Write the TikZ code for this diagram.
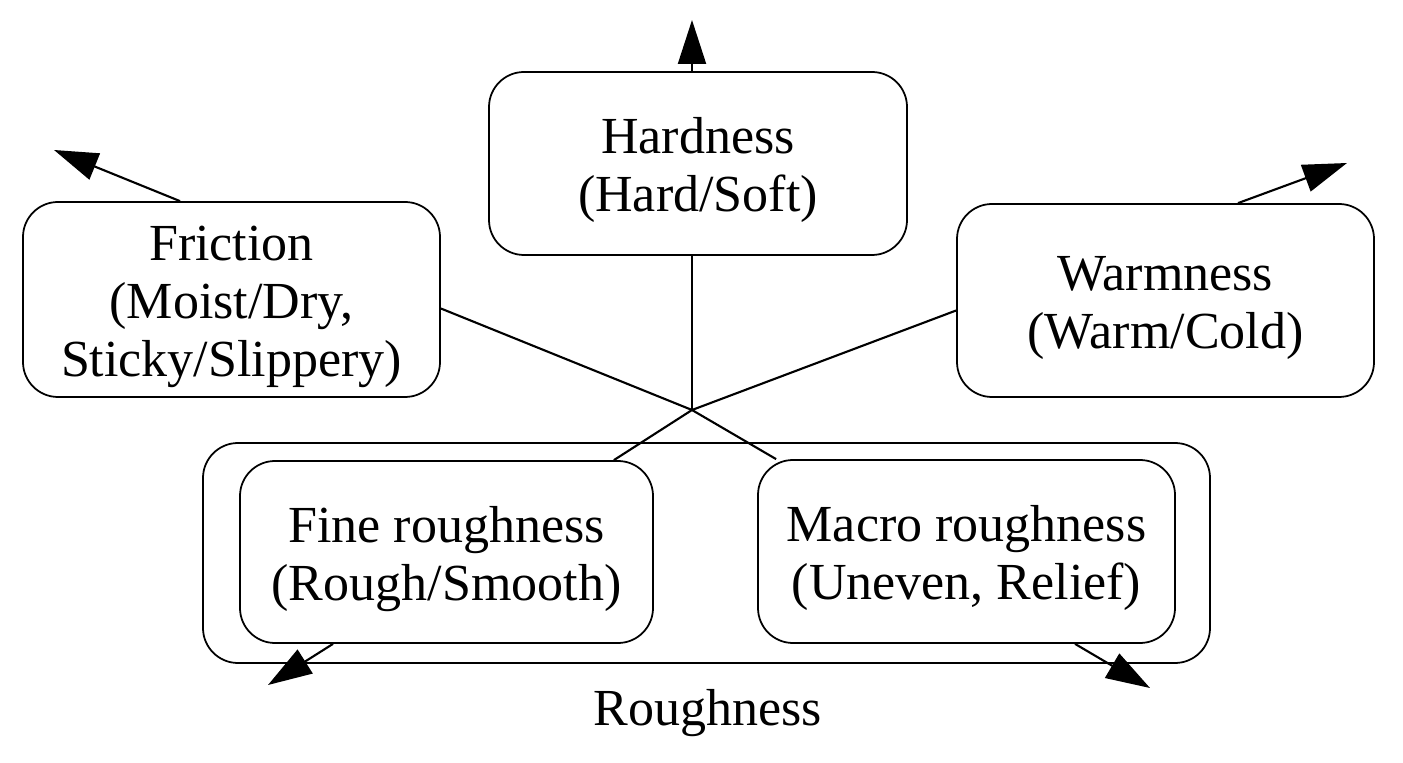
\documentclass[tikz,border=0pt]{standalone}
\usepackage{fontspec}
\setmainfont{Liberation Serif}
\usepackage{tikz}
\usetikzlibrary{calc,arrows.meta}
\newcommand\topstrut{\rule{0pt}{0.50cm}}
\tikzset{
	box/.style={draw, rounded corners=0.35cm, line width=0.5pt, align=center, inner sep=0pt},
	link/.style={line width=0.6pt},
	outarrow/.style={line width=0.6pt, -{Triangle[length=0.44cm, width=0.28cm]}}
}

\begin{document}
\begin{tikzpicture}[font=\fontsize{14.8}{16.5}\selectfont]
			%%%%% START %%%%%
			
			\useasboundingbox (0, 0) rectangle (14.03, 7.62);
			
			\node[box, minimum width=4.18cm, minimum height=1.83cm] (hardness) at (6.98, 5.985) {\topstrut Hardness\\(Hard/Soft)};
			\node[box, minimum width=4.17cm, minimum height=1.95cm] (friction) at (2.315, 4.625) {\topstrut Friction\\(Moist/Dry,\\Sticky/Slippery)};
			\node[box, minimum width=4.17cm, minimum height=1.93cm] (warmness) at (11.655, 4.615) {\topstrut Warmness\\(Warm/Cold)};
			
			\node[draw, rounded corners=0.35cm, line width=0.5pt, minimum width=10.07cm, minimum height=2.20cm] (roughness) at (7.065, 2.09) {};
			\node[box, minimum width=4.13cm, minimum height=1.82cm] (fine) at (4.465, 2.10) {\topstrut Fine roughness\\(Rough/Smooth)};
			\node[box, minimum width=4.17cm, minimum height=1.83cm] (macro) at (9.665, 2.105) {\topstrut Macro roughness\\(Uneven, Relief)};
			\node (roughlabel) at (7.08, 0.49) {Roughness};
			
			\coordinate (hub) at (6.92, 3.52);
			\coordinate (tiphard) at (6.92, 7.42);
			\coordinate (tipfric) at (0.54, 6.12);
			\coordinate (tipwarm) at (13.47, 5.99);
			\coordinate (tipfine) at (2.68, 0.77);
			\coordinate (tipmacro) at (11.50, 0.74);
			
			\draw[link] (hardness.south -| hub) -- (hub);
			\draw[link] ([yshift=-0.09cm]friction.east) -- (hub) -- ([xshift=0.19cm]macro.north west);
			\draw[link] ([yshift=-0.10cm]warmness.west) -- (hub) -- ([xshift=-0.40cm]fine.north east);
			
			\draw[outarrow] (hardness.north -| hub) -- (tiphard);
			\draw[outarrow] ([xshift=-0.515cm]friction.north) -- (tipfric);
			\draw[outarrow] ([xshift=0.725cm]warmness.north) -- (tipwarm);
			\draw[outarrow] ([xshift=-1.135cm]fine.south) -- (tipfine);
			\draw[outarrow] ([xshift=1.085cm]macro.south) -- (tipmacro);
			
			%%%%% END %%%%%
		\end{tikzpicture}
\end{document}
